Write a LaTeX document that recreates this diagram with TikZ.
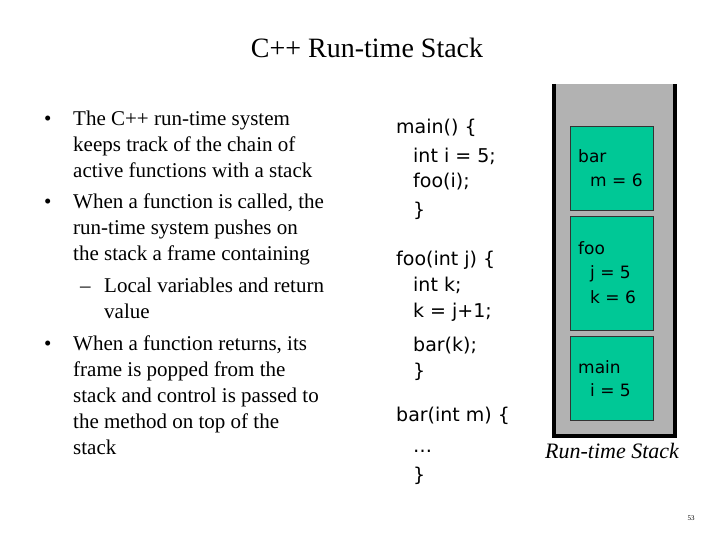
\documentclass[tikz,border=0pt]{standalone}
\usepackage{fontspec}
\setmainfont{Liberation Serif}
\newfontfamily\codefont{DejaVu Sans}
\usetikzlibrary{positioning}
\definecolor{framegreen}{RGB}{0,200,150}
\definecolor{stackgray}{RGB}{178,178,178}
\tikzset{
  txt/.style={anchor=base west, inner sep=0pt, font=\fontsize{21bp}{24bp}\selectfont},
  code/.style={anchor=base west, inner sep=0pt, font=\codefont\fontsize{19bp}{22bp}\selectfont},
  fr/.style={draw=black!80, fill=framegreen, thick},
  frtxt/.style={anchor=base west, inner sep=0pt, font=\codefont\fontsize{17bp}{20bp}\selectfont},
}
\begin{document}
\begin{tikzpicture}[x=1bp, y=-1bp]
    \useasboundingbox (0,0) rectangle (720,540);
    \node[font=\fontsize{28bp}{32bp}\selectfont] (title) at (367,48) {C++ Run-time Stack};

    % bullets
    \foreach \y in {126, 209, 350}
        \node[txt] at (44,\y) {\textbullet};
    \foreach \y/\t in {126/The C++ run-time system, 152/keeps track of the chain of, 178/active functions with a stack,
        209/{When a function is called, the}, 235/run-time system pushes on, 261/the stack a frame containing,
        350/{When a function returns, its}, 376/frame is popped from the, 402/stack and control is passed to,
        428/the method on top of the, 454/stack}
        \node[txt] at (73,\y) {\t};
    \node[txt] at (80,292) {–};
    \node[txt] at (104,292) {Local variables and return};
    \node[txt] at (104,318) {value};

    % code
    \foreach \y/\x/\t in {134/396/{main() \{}, 163/413/{int i = 5;}, 188/413/{foo(i);}, 217/413/\},
        266/396/{foo(int j) \{}, 291/413/{int k;}, 317/413/{k = j+1;}, 351/413/{bar(k);}, 377/413/\},
        421/396/{bar(int m) \{}, 452/413/{\ldots}, 481/413/\}}
        \node[code] at (\x,\y) {\t};

    % stack
    \fill[stackgray] (552,84) rectangle (677,438);
    \draw[line width=4bp] (554,84) -- (554,436) -- (675,436) -- (675,84);
    \draw[fr] (570,126) rectangle (653,210);
    \draw[fr] (570,216) rectangle (653,330);
    \draw[fr] (570,336) rectangle (653,420);
    \node[frtxt] (bar) at (578,163) {bar};
    \node[frtxt] at (590,187) {m = 6};
    \node[frtxt] (foo) at (578,255) {foo};
    \node[frtxt] at (590,279) {j = 5};
    \node[frtxt] at (590,303) {k = 6};
    \node[frtxt] (main) at (578,373) {main};
    \node[frtxt] at (590,396) {i = 5};
    \node[font=\itshape\fontsize{22bp}{26bp}\selectfont] (label) at (612,451) {Run-time Stack};
    \node[font=\fontsize{7bp}{8bp}\selectfont] (page) at (691,518) {53};
\end{tikzpicture}
\end{document}
